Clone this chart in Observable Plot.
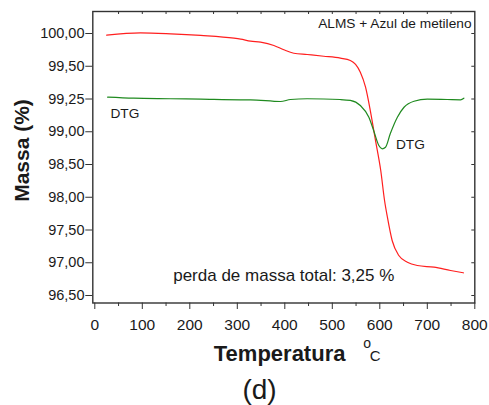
<!DOCTYPE html>
<html>
<head>
<meta charset="utf-8">
<script src="https://cdn.jsdelivr.net/npm/d3@7"></script>
<script src="https://cdn.jsdelivr.net/npm/@observablehq/plot@0.6"></script>
<style>
  html, body { margin: 0; padding: 0; background: #fff; }
  #chart svg { display: block; }
</style>
</head>
<body>
<div id="chart"></div>
<script>
// TG curve: mass (%) versus temperature (°C)
const tgaTemp = [25, 96, 160, 223, 293, 307, 328, 349, 377, 398, 419, 447, 482, 517, 538, 549, 559, 570, 580, 591, 602, 610, 616, 626, 640, 658, 679, 714, 749, 776];
const tgaMass = [99.974, 100.01, 99.995, 99.97, 99.928, 99.913, 99.883, 99.867, 99.817, 99.751, 99.699, 99.679, 99.653, 99.623, 99.588, 99.527, 99.454, 99.34, 99.162, 98.866, 98.408, 97.95, 97.695, 97.34, 97.11, 97.008, 96.958, 96.932, 96.882, 96.847];

// DTG signal, drawn on the same vertical axis
const dtgTemp = [27, 82, 159, 223, 307, 328, 391, 412, 447, 517, 538, 559, 577, 587, 598, 605, 612, 622, 637, 651, 672, 700, 742, 770, 777];
const dtgSignal = [99.264, 99.256, 99.252, 99.2485, 99.244, 99.244, 99.231, 99.246, 99.252, 99.246, 99.239, 99.20, 99.111, 99.01, 98.79, 98.74, 98.764, 98.969, 99.111, 99.187, 99.233, 99.2485, 99.246, 99.244, 99.256];

// Axis ticks (the vertical axis is piecewise: equal spacing between labels)
const yTicks = [96.5, 97, 97.5, 98, 98.5, 99, 99.25, 99.5, 100];
const yTickLabels = ["96,50", "97,00", "97,50", "98,00", "98,50", "99,00", "99,25", "99,50", "100,00"];
const xTicks = [0, 100, 200, 300, 400, 500, 600, 700, 800];
const xMinorTicks = [50, 150, 250, 350, 450, 550, 650, 750];
const xTopTicks = [50, 100, 150, 200, 250, 300, 350, 400, 450, 500, 550, 600, 650, 700, 750];

// In-plot annotations
const curveLabels = ["DTG", "DTG"];
const curveLabelTemp = [33, 634];
const curveLabelMass = [99.103, 98.74];
const lossText = ["perda de massa total: 3,25 %"];
const lossTemp = [165];
const lossMass = [96.714];

const W = 489, H = 405;
const mL = 92.3, mR = 14.7, mT = 11, mB = 102.5;
const frameW = W - mL - mR, frameH = H - mT - mB;
const ink = "#333";

// equally spaced vertical positions for the piecewise mass axis
const yBottom = H - mB - 7.5, yTop = mT + 22;
const yRange = yTicks.map((_, i) => yBottom + (yTop - yBottom) * i / (yTicks.length - 1));

const chart = Plot.plot({
  width: W,
  height: H,
  marginLeft: mL,
  marginRight: mR,
  marginTop: mT,
  marginBottom: mB,
  style: {fontFamily: "'Liberation Sans', Arial, sans-serif", color: "#1a1a1a", background: "#fff"},
  x: {domain: [0, 800], insetLeft: 2, label: null},
  y: {type: "linear", domain: yTicks, range: yRange, label: null},
  marks: [
    Plot.axisX({ticks: xTicks, tickSize: 6.5, tickPadding: 9.5, fontSize: 15.5, tickFormat: d => String(d), label: null, stroke: ink}),
    Plot.axisY({ticks: yTicks, tickSize: 7, tickPadding: 1.3, fontSize: 14.5, tickFormat: d => yTickLabels[yTicks.indexOf(d)], label: null, stroke: ink}),
    Plot.frame({stroke: ink, strokeWidth: 1.4}),
    // inner ticks on the top and right edges, small outer ticks between labels
    Plot.tickX(xTopTicks, {x: d => d, insetBottom: frameH - 3, stroke: ink}),
    Plot.tickX(xMinorTicks, {x: d => d, insetTop: frameH, insetBottom: -3.5, stroke: ink}),
    Plot.tickY(yTicks, {y: d => d, insetLeft: frameW - 3, stroke: ink}),
    Plot.line(tgaTemp, {x: tgaTemp, y: tgaMass, stroke: "#ff1f1f", strokeWidth: 1.2, curve: "monotone-x"}),
    Plot.line(dtgTemp, {x: dtgTemp, y: dtgSignal, stroke: "#1f8a1f", strokeWidth: 1.2, curve: "monotone-x"}),
    Plot.text(curveLabels, {x: curveLabelTemp, y: curveLabelMass, textAnchor: "start", lineAnchor: "bottom", fontSize: 13.7}),
    Plot.text(lossText, {x: lossTemp, y: lossMass, textAnchor: "start", lineAnchor: "bottom", fontSize: 17}),
    Plot.text(["ALMS + Azul de metileno"], {frameAnchor: "top-right", dx: -3.3, dy: 16.3, textAnchor: "end", lineAnchor: "bottom", fontSize: 13.7}),
    Plot.text(["Massa (%)"], {frameAnchor: "left", dx: -70.3, dy: -6.75, rotate: -90, textAnchor: "middle", fontSize: 21, fontWeight: "bold"}),
    Plot.text(["Temperatura"], {frameAnchor: "bottom-left", dx: 121, dy: 57.5, textAnchor: "start", lineAnchor: "bottom", fontSize: 22, fontWeight: "bold"}),
    Plot.text(["o"], {frameAnchor: "bottom-left", dx: 270.5, dy: 45.3, textAnchor: "start", lineAnchor: "bottom", fontSize: 14}),
    Plot.text(["C"], {frameAnchor: "bottom-left", dx: 277, dy: 58.2, textAnchor: "start", lineAnchor: "bottom", fontSize: 15}),
    Plot.text(["(d)"], {frameAnchor: "bottom-left", dx: 259 - mL, dy: 95.5, textAnchor: "middle", lineAnchor: "bottom", fontSize: 28})
  ]
});

document.getElementById("chart").append(chart);
</script>
</body>
</html>
